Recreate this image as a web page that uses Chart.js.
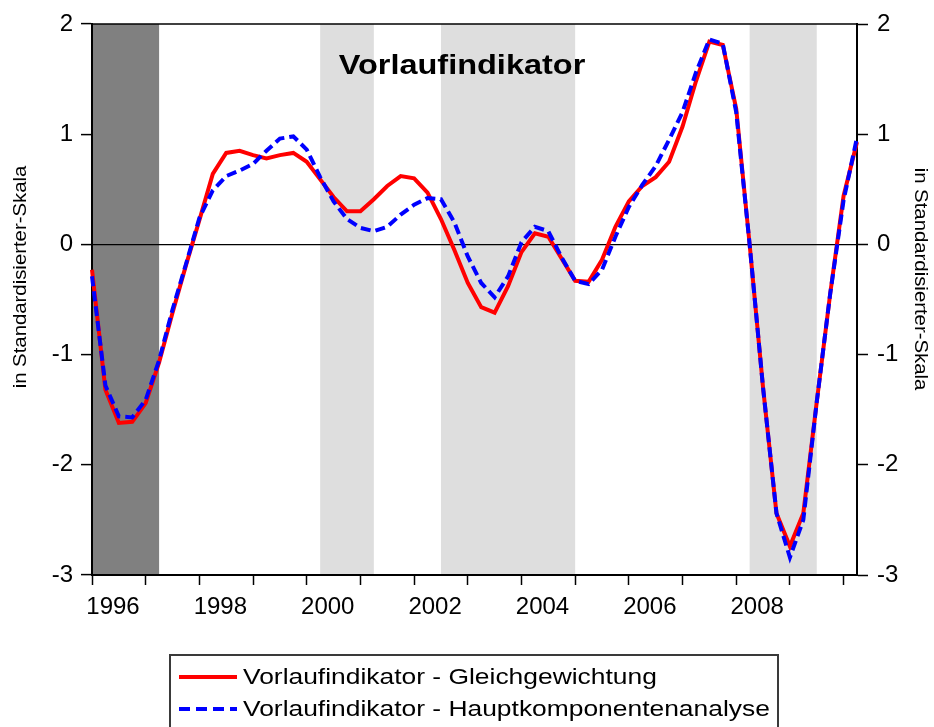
<!DOCTYPE html>
<html lang="de">
<head>
<meta charset="UTF-8">
<title>Vorlaufindikator</title>
<script src="https://cdn.jsdelivr.net/npm/chart.js@4"></script>
<style>
    html, body { margin: 0; padding: 0; background: #fff; }
    .wrap { position: relative; width: 934px; height: 727px; overflow: hidden; }
    #chart { display: block; }
    /* Legende unten, Kasten wird am Bildrand abgeschnitten */
    .legend {
        position: absolute; left: 169px; top: 654px; width: 610px; height: 100px;
        border: 2px solid #3a3a3a; box-sizing: border-box;
        font-family: "Liberation Sans", Arial, sans-serif;
    }
    .legend .row { position: absolute; left: 8px; height: 30px; display: flex; align-items: center; }
    .legend svg { width: 58px; height: 8px; flex: none; }
    .legend span {
        display: inline-block; font-size: 22px; color: #000; white-space: nowrap;
        margin-left: 6px; transform: scaleX(1.2); transform-origin: left center;
    }
</style>
</head>
<body>
<div class="wrap">
    <canvas id="chart" width="934" height="727"></canvas>
    <div class="legend">
        <div class="row" style="top:6px">
            <svg viewBox="0 0 58 8"><line x1="0" y1="4" x2="58" y2="4" stroke="#ff0000" stroke-width="4"/></svg>
            <span id="lg0"></span>
        </div>
        <div class="row" style="top:38px">
            <svg viewBox="0 0 58 8"><line x1="0" y1="4" x2="58" y2="4" stroke="#0000ff" stroke-width="4" stroke-dasharray="11 6"/></svg>
            <span id="lg1"></span>
        </div>
    </div>
</div>

<script>
// Quartale 1996Q1 - 2010Q2
const quarters = [
    '1996Q1','1996Q2','1996Q3','1996Q4','1997Q1','1997Q2','1997Q3','1997Q4',
    '1998Q1','1998Q2','1998Q3','1998Q4','1999Q1','1999Q2','1999Q3','1999Q4',
    '2000Q1','2000Q2','2000Q3','2000Q4','2001Q1','2001Q2','2001Q3','2001Q4',
    '2002Q1','2002Q2','2002Q3','2002Q4','2003Q1','2003Q2','2003Q3','2003Q4',
    '2004Q1','2004Q2','2004Q3','2004Q4','2005Q1','2005Q2','2005Q3','2005Q4',
    '2006Q1','2006Q2','2006Q3','2006Q4','2007Q1','2007Q2','2007Q3','2007Q4',
    '2008Q1','2008Q2','2008Q3','2008Q4','2009Q1','2009Q2','2009Q3','2009Q4',
    '2010Q1','2010Q2'
];

// Vorlaufindikator - Gleichgewichtung
const gleichgewichtung = [
    -0.23, -1.32, -1.62, -1.61, -1.44, -1.07, -0.62, -0.19,
     0.22,  0.64,  0.83,  0.85,  0.81,  0.78,  0.81,  0.83,
     0.75,  0.59,  0.43,  0.30,  0.30,  0.41,  0.53,  0.62,
     0.60,  0.47,  0.23, -0.05, -0.35, -0.57, -0.62, -0.38,
    -0.07,  0.10,  0.07, -0.13, -0.33, -0.34, -0.14,  0.16,
     0.39,  0.53,  0.61,  0.75,  1.07,  1.48,  1.84,  1.81,
     1.23,  0.00, -1.30, -2.44, -2.74, -2.44, -1.43, -0.45,
     0.44,  0.93
];

// Vorlaufindikator - Hauptkomponentenanalyse
const hauptkomponenten = [
    -0.29, -1.28, -1.56, -1.57, -1.41, -1.05, -0.59, -0.18,
     0.24,  0.49,  0.62,  0.67,  0.73,  0.85,  0.96,  0.98,
     0.86,  0.61,  0.39,  0.23,  0.15,  0.12,  0.16,  0.27,
     0.36,  0.42,  0.41,  0.20, -0.11, -0.35, -0.48, -0.29,
     0.02,  0.16,  0.12, -0.12, -0.33, -0.36, -0.23,  0.07,
     0.34,  0.54,  0.71,  0.95,  1.20,  1.56,  1.86,  1.82,
     1.20,  0.00, -1.30, -2.44, -2.84, -2.50, -1.43, -0.45,
     0.40,  0.97
];

// beschriftete Jahre auf der x-Achse
const yearLabels = ['1996', '1998', '2000', '2002', '2004', '2006', '2008'];

// Schattierte Phasen (Start- und Endquartal)
const phases = [
    { from: '1996Q1', to: '1997Q2', color: '#808080' },
    { from: '2000Q2', to: '2001Q2', color: '#dedede' },
    { from: '2002Q3', to: '2005Q1', color: '#dedede' },
    { from: '2008Q2', to: '2009Q3', color: '#dedede' }
];

const seriesNames = [
    'Vorlaufindikator - Gleichgewichtung',
    'Vorlaufindikator - Hauptkomponentenanalyse'
];
const chartTitle = 'Vorlaufindikator';
const axisTitle = 'in Standardisierter-Skala';

document.getElementById('lg0').textContent = seriesNames[0];
document.getElementById('lg1').textContent = seriesNames[1];

const FONT = '"Liberation Sans", Arial, sans-serif';

// Hintergrund-Schattierung, Rahmen oben, Titel und Achsentitel
const decor = {
    id: 'decor',
    beforeDraw(chart) {
        const { ctx, chartArea } = chart;
        const x = chart.scales.x;
        ctx.save();
        phases.forEach(p => {
            const x0 = x.getPixelForValue(quarters.indexOf(p.from));
            const x1 = x.getPixelForValue(quarters.indexOf(p.to));
            ctx.fillStyle = p.color;
            ctx.fillRect(x0, chartArea.top, x1 - x0, chartArea.bottom - chartArea.top);
        });
        ctx.restore();
    },
    afterDraw(chart) {
        const { ctx, chartArea } = chart;
        ctx.save();
        ctx.strokeStyle = '#000';
        ctx.lineWidth = 1.5;
        ctx.beginPath();
        ctx.moveTo(chartArea.left, chartArea.top);
        ctx.lineTo(chartArea.right, chartArea.top);
        ctx.stroke();

        ctx.fillStyle = '#000';
        ctx.textAlign = 'center';
        ctx.textBaseline = 'middle';

        // Titel im Diagramm
        ctx.save();
        ctx.translate(462, 66);
        ctx.scale(1.16, 1);
        ctx.font = 'bold 28px ' + FONT;
        ctx.fillText(chartTitle, 0, 0);
        ctx.restore();

        // linke Achse
        ctx.save();
        ctx.translate(21, 277);
        ctx.rotate(-Math.PI / 2);
        ctx.scale(1.13, 1);
        ctx.font = '18px ' + FONT;
        ctx.fillText(axisTitle, 0, 0);
        ctx.restore();

        // rechte Achse
        ctx.save();
        ctx.translate(920, 279);
        ctx.rotate(Math.PI / 2);
        ctx.scale(1.13, 1);
        ctx.font = '18px ' + FONT;
        ctx.fillText(axisTitle, 0, 0);
        ctx.restore();

        ctx.restore();
    }
};

const tickFont = { family: FONT, size: 24 };

new Chart(document.getElementById('chart'), {
    type: 'line',
    data: {
        labels: quarters,
        datasets: [
            {
                label: seriesNames[0],
                data: gleichgewichtung,
                borderColor: '#ff0000',
                borderWidth: 4,
                pointRadius: 0,
                tension: 0,
                fill: false,
                order: 1
            },
            {
                label: seriesNames[1],
                data: hauptkomponenten,
                borderColor: '#0000ff',
                borderWidth: 4,
                borderDash: [10, 5],
                pointRadius: 0,
                tension: 0,
                fill: false,
                order: 0
            }
        ]
    },
    options: {
        responsive: false,
        animation: false,
        layout: { padding: { top: 24, left: 0, right: 0, bottom: 0 } },
        plugins: {
            legend: { display: false },
            title: { display: false },
            tooltip: { enabled: false }
        },
        scales: {
            x: {
                type: 'category',
                offset: false,
                grid: { drawOnChartArea: false, tickLength: 10, tickColor: '#000', tickWidth: 1.5 },
                border: { color: '#000', width: 2 },
                ticks: {
                    autoSkip: false,
                    maxRotation: 0,
                    padding: 8,
                    labelOffset: 21,
                    color: '#000',
                    font: tickFont,
                    callback: (v) => {
                        const yr = quarters[v].slice(0, 4);
                        return yearLabels.includes(yr) ? yr : '';
                    }
                },
                afterBuildTicks: (s) => {
                    s.ticks = s.ticks.filter(t => quarters[t.value].endsWith('Q1'));
                },
                afterFit: (s) => { s.height = 727 - 575; }
            },
            y: {
                position: 'left',
                min: -3,
                max: 2,
                grid: {
                    color: (c) => (c.tick && c.tick.value === 0 ? '#000' : 'rgba(0,0,0,0)'),
                    lineWidth: 1.2,
                    tickColor: '#000',
                    tickWidth: 1.5,
                    tickLength: 11
                },
                border: { color: '#000', width: 2 },
                ticks: { stepSize: 1, padding: 8, color: '#000', font: tickFont },
                afterFit: (s) => { s.width = 92; }
            },
            y2: {
                position: 'right',
                min: -3,
                max: 2,
                grid: { drawOnChartArea: false, tickColor: '#000', tickWidth: 1.5, tickLength: 11 },
                border: { color: '#000', width: 2 },
                ticks: { stepSize: 1, padding: 9, color: '#000', font: tickFont },
                afterFit: (s) => { s.width = 934 - 857; }
            }
        }
    },
    plugins: [decor]
});
</script>
</body>
</html>
